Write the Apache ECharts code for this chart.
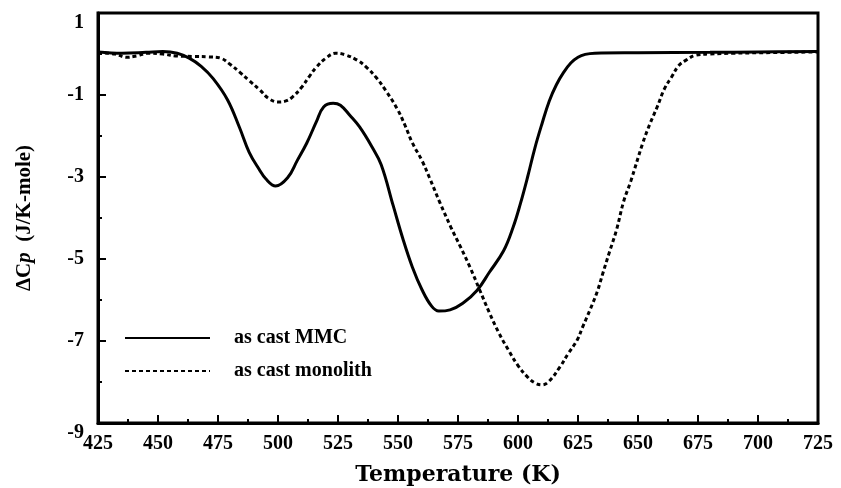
<!DOCTYPE html>
<html>
<head>
<meta charset="utf-8">
<script src="https://cdn.jsdelivr.net/npm/echarts@6/dist/echarts.min.js"></script>
<style>html,body{margin:0;padding:0;background:#fff}#c{width:841px;height:488px}</style>
</head>
<body>
<div id="c"></div>
<script>
const seriesNames = ['as cast MMC', 'as cast monolith'];
const xTicks = [425, 450, 475, 500, 525, 550, 575, 600, 625, 650, 675, 700, 725];
const yTicks = [1, -1, -3, -5, -7, -9];

const mmcT = [425, 435, 445, 452, 458, 463, 468, 473, 479, 484, 488, 492, 495, 499, 504, 508, 512, 516, 519, 523, 526, 530, 534, 539, 543, 548, 552, 556, 560, 564, 567, 571.7, 577, 583, 588, 594, 598, 601, 604, 607, 610, 613, 616, 619, 622, 625, 628, 632, 650, 680, 700, 725];
const mmcCp = [0.05, 0.02, 0.04, 0.06, 0.02, -0.1, -0.3, -0.6, -1.12, -1.8, -2.4, -2.8, -3.05, -3.22, -3.02, -2.6, -2.17, -1.65, -1.29, -1.2, -1.25, -1.5, -1.78, -2.25, -2.7, -3.7, -4.5, -5.2, -5.75, -6.15, -6.27, -6.24, -6.08, -5.76, -5.33, -4.8, -4.22, -3.65, -3.0, -2.3, -1.7, -1.15, -0.75, -0.45, -0.22, -0.08, -0.01, 0.02, 0.03, 0.04, 0.05, 0.06];

const monoT = [425, 432, 437, 441, 446, 452, 458, 465, 471, 476, 480, 484, 488, 492.5, 496, 500, 503, 506, 510, 513, 516, 520, 524, 528, 533, 537, 541, 545, 549.6, 553, 556, 560, 563, 567.5, 572, 576, 580, 584, 588, 592, 596, 600, 604, 607, 610, 613, 617.5, 621, 624.6, 627, 630, 633, 635.4, 638, 641, 644, 647, 652, 655, 658, 661, 664, 667, 670, 674, 680, 690, 700, 725];
const monoCp = [0.03, 0.0, -0.08, -0.05, 0.02, 0.0, -0.05, -0.06, -0.07, -0.1, -0.25, -0.44, -0.65, -0.88, -1.08, -1.17, -1.15, -1.05, -0.8, -0.55, -0.32, -0.1, 0.02, -0.02, -0.15, -0.33, -0.58, -0.9, -1.33, -1.75, -2.17, -2.6, -3.0, -3.63, -4.22, -4.7, -5.2, -5.75, -6.3, -6.8, -7.22, -7.6, -7.88, -8.02, -8.07, -7.98, -7.63, -7.3, -6.98, -6.65, -6.24, -5.8, -5.34, -4.85, -4.3, -3.6, -3.1, -2.17, -1.7, -1.29, -0.85, -0.56, -0.28, -0.15, -0.03, 0.0, 0.02, 0.03, 0.05];

const zip = (a, b) => a.map((v, i) => [v, b[i]]);
const serif = '"Liberation Serif", "Times New Roman", serif';

const chart = echarts.init(document.getElementById('c'), null, {renderer: 'canvas'});
chart.setOption({
  animation: false,
  backgroundColor: '#fff',
  grid: {left: 98, right: 23, top: 13, bottom: 65, outerBoundsMode: 'none', containLabel: false,
    show: true, borderColor: '#000', borderWidth: 3, backgroundColor: 'transparent'},
  legend: {
    orient: 'vertical', left: 119, top: 323, itemWidth: 85, itemHeight: 10, itemGap: 13,
    data: seriesNames,
    itemStyle: {color: 'transparent', borderWidth: 0, opacity: 0},
    textStyle: {fontFamily: serif, fontWeight: 'bold', fontSize: 20, color: '#000', padding: [0, 0, 0, 19]}
  },
  xAxis: {
    type: 'value', min: 425, max: 725, interval: 25,
    name: 'Temperature (K)', nameLocation: 'middle', nameGap: 41,
    nameTextStyle: {fontFamily: '"DejaVu Serif", serif', fontWeight: 'bold', fontSize: 22, color: '#000'},
    axisLine: {show: true, onZero: false, lineStyle: {color: '#000', width: 3}},
    axisTick: {show: true, inside: true, length: 8, lineStyle: {color: '#000', width: 2}},
    minorTick: {show: true, splitNumber: 2, length: 4, lineStyle: {color: '#000', width: 2}},
    splitLine: {show: false},
    axisLabel: {fontFamily: serif, fontWeight: 'bold', fontSize: 20, color: '#000', margin: 11,
      formatter: v => xTicks.includes(v) ? String(v) : ''}
  },
  yAxis: {
    type: 'value', min: -9, max: 1, interval: 2,
    name: '{a|ΔC}{b|p}{a|  (J/K-mole)}', nameLocation: 'middle', nameGap: 63, nameRotate: 90,
    nameTextStyle: {rich: {
      a: {fontFamily: serif, fontWeight: 'bold', fontSize: 21, color: '#000'},
      b: {fontFamily: serif, fontWeight: 'bold', fontStyle: 'italic', fontSize: 21, color: '#000'}
    }},
    axisLine: {show: true, onZero: false, lineStyle: {color: '#000', width: 3}},
    axisTick: {show: true, inside: true, length: 8, lineStyle: {color: '#000', width: 2}},
    minorTick: {show: true, splitNumber: 2, length: 4, lineStyle: {color: '#000', width: 2}},
    splitLine: {show: false},
    axisLabel: {fontFamily: serif, fontWeight: 'bold', fontSize: 20, color: '#000', margin: 14,
      verticalAlignMaxLabel: 'top', verticalAlignMinLabel: 'top',
      formatter: v => yTicks.includes(v) ? String(v) : ''}
  },
  series: [
    {name: seriesNames[0], type: 'line', data: zip(mmcT, mmcCp), symbol: 'none', smooth: 0.4,
      lineStyle: {color: '#000', width: 3}, itemStyle: {color: '#000'}},
    {name: seriesNames[1], type: 'line', data: zip(monoT, monoCp), symbol: 'none', smooth: 0.4,
      lineStyle: {color: '#000', width: 3, type: [4, 3]}, itemStyle: {color: '#000'}}
  ]
});
</script>
</body>
</html>
